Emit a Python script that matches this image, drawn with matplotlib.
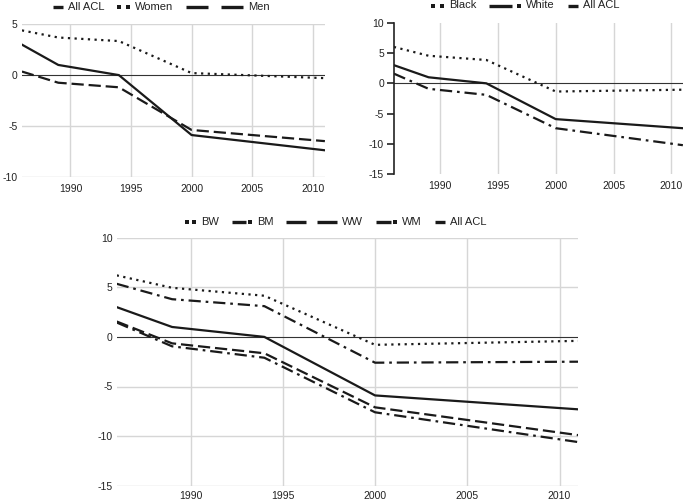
import matplotlib
matplotlib.use("Agg")
import matplotlib.pyplot as plt
from matplotlib.lines import Line2D
from matplotlib.offsetbox import DrawingArea, TextArea, HPacker, AnchoredOffsetbox

plt.rcParams['font.family'] = ['Liberation Sans', 'DejaVu Sans']

years = [1986, 1989, 1994, 2000, 2011]
xticks = [1990, 1995, 2000, 2005, 2010]

# Panel 1
all_acl = [3.0, 1.0, 0.0, -5.9, -7.4]
women = [4.4, 3.7, 3.35, 0.2, -0.3]
men = [0.35, -0.75, -1.2, -5.4, -6.5]
labels1 = ['All ACL', 'Women', 'Men']

# Panel 2
black = [6.0, 4.55, 3.85, -1.35, -1.05]
white = [1.6, -0.9, -1.9, -7.4, -10.2]
labels2 = ['Black', 'White', 'All ACL']

# Panel 3
bw = [6.2, 4.95, 4.15, -0.8, -0.4]
bm = [5.35, 3.8, 3.1, -2.6, -2.5]
ww = [1.55, -0.65, -1.65, -7.1, -9.9]
wm = [1.45, -0.95, -2.1, -7.6, -10.6]
all_acl3 = [3.0, 1.0, 0.0, -5.9, -7.3]
labels3 = ['BW', 'BM', 'WW', 'WM', 'All ACL']

DOT = (0, (1, 2.0))
DASH = (0, (5.5, 2.2))
DASHDOT = (0, (5.5, 2.2, 1.2, 2.2))
K = '#1a1a1a'
GRID = '#d6d6d6'
FS = 7.5
LFS = 8
LW = 1.6

fig = plt.figure(figsize=(6.85, 5.0), dpi=100)

def style(ax, yt, ylim, hgrid=True, xpad=4):
    ax.set_xlim(1986, 2011)
    ax.set_ylim(*ylim)
    ax.set_xticks(xticks)
    ax.set_yticks(yt)
    ax.set_xticklabels([str(x) for x in xticks], fontsize=FS, color='#222')
    ax.set_yticklabels([str(y) for y in yt], fontsize=FS, color='#222')
    for s in ax.spines.values():
        s.set_visible(False)
    ax.tick_params(axis='both', length=0)
    ax.tick_params(axis='x', pad=xpad)
    ax.tick_params(axis='y', pad=3)
    for x in xticks:
        ax.axvline(x, color=GRID, lw=1, zorder=0)
    if hgrid:
        for y in yt:
            if y != 0:
                ax.axhline(y, color=GRID, lw=1, zorder=0)
    ax.axhline(0, color='#333', lw=0.8, zorder=1)

P = 0.72  # px -> pt at 100 dpi
GH = 8 * P
GLW = 2.4

def glyph(kind, wpx):
    w = wpx * P
    da = DrawingArea(w, GH, 0, 0)
    y = GH / 2
    if kind == 'solid':
        da.add_artist(Line2D([0, w], [y, y], color=K, lw=GLW, solid_capstyle='butt'))
    elif kind == 'dots':
        da.add_artist(Line2D([1.2, w - 1.2], [y, y], color=K, lw=0, marker='s', ms=2.4, mew=0))
    elif kind == 'dashdot':
        da.add_artist(Line2D([0, w * 0.72], [y, y], color=K, lw=GLW, solid_capstyle='butt'))
        da.add_artist(Line2D([w - 1.2], [y], color=K, lw=0, marker='s', ms=2.4, mew=0))
    elif kind == 'long2':
        da.add_artist(Line2D([0, w * 0.39], [y, y], color=K, lw=GLW, solid_capstyle='butt'))
        da.add_artist(Line2D([w * 0.61, w], [y, y], color=K, lw=GLW, solid_capstyle='butt'))
    return da

def legend(items, labels, cx, cy):
    boxes = []
    for (kind, wpx), lab in zip(items, labels):
        ta = TextArea(lab, textprops=dict(fontsize=LFS, color='#222'))
        boxes.append(HPacker(children=[glyph(kind, wpx), ta], align='center', pad=0, sep=5 * P))
    pack = HPacker(children=boxes, align='center', pad=0, sep=13 * P)
    ab = AnchoredOffsetbox(loc='center', child=pack, frameon=False, pad=0, borderpad=0,
                           bbox_to_anchor=(cx / 685, 1 - cy / 500), bbox_transform=fig.transFigure)
    fig.add_artist(ab)

# ---- Panel 1
ax1 = fig.add_axes([0.032, 0.6466, 0.4423, 0.3048])
style(ax1, [-10, -5, 0, 5], (-10, 5), xpad=5.5)
ax1.plot(years, all_acl, color=K, lw=LW, ls='-')
ax1.plot(years, women, color=K, lw=LW, ls=DOT)
ax1.plot(years, men, color=K, lw=LW, ls=DASH)
legend([('solid', 10), ('dots', 12), ('long2', 57)], labels1, 161.5, 6.5)

# ---- Panel 2
ax2 = fig.add_axes([0.575, 0.6514, 0.4219, 0.3032])
style(ax2, [-15, -10, -5, 0, 5, 10], (-15, 10), hgrid=False, xpad=5)
ax2.spines['left'].set_visible(True)
ax2.spines['left'].set_color('#222')
ax2.spines['left'].set_linewidth(1.2)
ax2.tick_params(axis='y', length=5, width=1.2, color='#222', direction='out', pad=2)
ax2.plot(years, black, color=K, lw=LW, ls=DOT)
ax2.plot(years, all_acl, color=K, lw=LW, ls='-')
ax2.plot(years, white, color=K, lw=LW, ls=DASHDOT)
legend([('dots', 12), ('dashdot', 32), ('solid', 10)], labels2, 525.5, 5.5)

# ---- Panel 3
ax3 = fig.add_axes([0.1704, 0.0286, 0.6734, 0.496])
style(ax3, [-15, -10, -5, 0, 5, 10], (-15, 10), xpad=4)
ax3.plot(years, bw, color=K, lw=LW, ls=DOT)
ax3.plot(years, bm, color=K, lw=LW, ls=DASHDOT)
ax3.plot(years, all_acl3, color=K, lw=LW, ls='-')
ax3.plot(years, ww, color=K, lw=LW, ls=DASH)
ax3.plot(years, wm, color=K, lw=LW, ls=DASHDOT)
legend([('dots', 10), ('dashdot', 20), ('long2', 51), ('dashdot', 21), ('solid', 10)],
       labels3, 336, 222)

fig.savefig('out.png', dpi=100)
